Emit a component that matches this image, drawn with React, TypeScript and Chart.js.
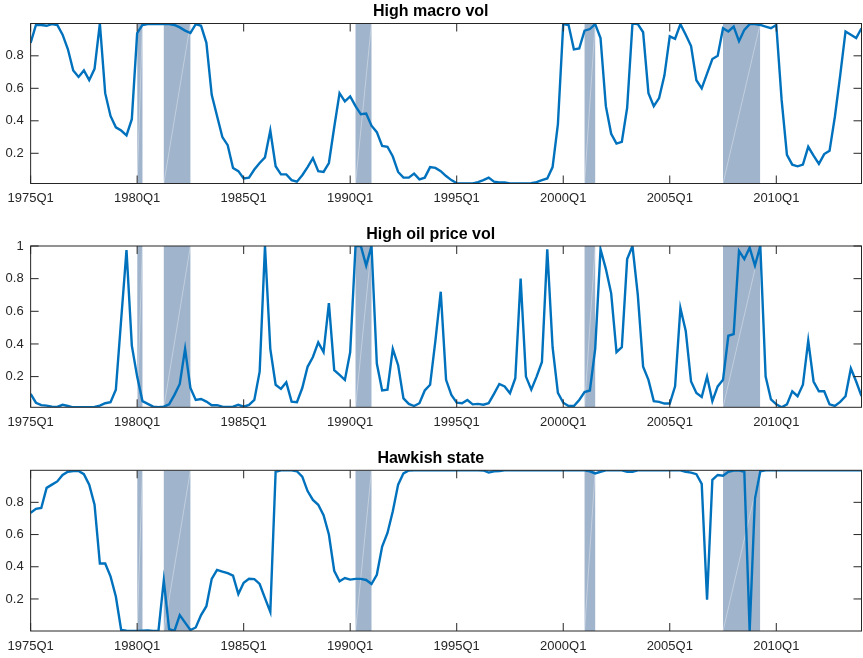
import React, { useEffect, useRef } from 'react';
import { Chart, registerables } from 'chart.js';

Chart.register(...registerables);

// ---------- data ----------
const START_YEAR = 1975;
const N_QUARTERS = 157;
const quarters: string[] = [];
for (let i = 0; i < N_QUARTERS; i++) {
  quarters.push(`${START_YEAR + Math.floor(i / 4)}Q${(i % 4) + 1}`);
}

const xTickLabels = ['1975Q1', '1980Q1', '1985Q1', '1990Q1', '1995Q1', '2000Q1', '2005Q1', '2010Q1'];

const recessions: [string, string][] = [
  ['1980Q1', '1980Q2'],
  ['1981Q2', '1982Q3'],
  ['1990Q2', '1991Q1'],
  ['2001Q1', '2001Q3'],
  ['2007Q3', '2009Q2'],
];

const macroVol = [
  0.88, 0.99, 0.99, 0.985, 0.995, 0.99, 0.93, 0.84, 0.71, 0.67,
  0.71, 0.65, 0.72, 0.999, 0.57, 0.43, 0.36, 0.34, 0.31, 0.41,
  0.94, 0.99, 0.995, 0.995, 0.995, 0.995, 0.995, 0.99, 0.975, 0.955,
  0.94, 0.995, 0.985, 0.88, 0.56, 0.43, 0.30, 0.25, 0.11, 0.09,
  0.045, 0.05, 0.10, 0.14, 0.175, 0.34, 0.12, 0.07, 0.07, 0.035,
  0.025, 0.065, 0.115, 0.17, 0.09, 0.085, 0.14, 0.36, 0.57, 0.52,
  0.55, 0.49, 0.44, 0.445, 0.37, 0.33, 0.245, 0.24, 0.18, 0.085,
  0.05, 0.05, 0.075, 0.04, 0.05, 0.115, 0.11, 0.09, 0.06, 0.035,
  0.016, 0.015, 0.015, 0.015, 0.022, 0.035, 0.05, 0.025, 0.02, 0.02,
  0.015, 0.014, 0.014, 0.014, 0.016, 0.022, 0.035, 0.045, 0.115, 0.38,
  0.995, 0.99, 0.84, 0.845, 0.955, 0.965, 0.995, 0.91, 0.49, 0.32,
  0.26, 0.27, 0.48, 0.999, 0.995, 0.945, 0.57, 0.49, 0.54, 0.68,
  0.92, 0.905, 0.995, 0.93, 0.86, 0.65, 0.60, 0.69, 0.78, 0.80,
  0.97, 0.95, 0.98, 0.89, 0.96, 0.995, 0.995, 0.99, 0.98, 0.97,
  0.99, 0.53, 0.19, 0.13, 0.12, 0.13, 0.24, 0.185, 0.135, 0.195,
  0.215, 0.425, 0.68, 0.95, 0.93, 0.91, 0.97,
];

const oilVol = [
  0.094, 0.04, 0.025, 0.022, 0.016, 0.014, 0.027, 0.02, 0.012, 0.012,
  0.012, 0.012, 0.014, 0.022, 0.037, 0.043, 0.12, 0.55, 0.975, 0.39,
  0.20, 0.05, 0.033, 0.016, 0.012, 0.016, 0.03, 0.088, 0.155, 0.37,
  0.13, 0.057, 0.063, 0.047, 0.025, 0.025, 0.016, 0.014, 0.016, 0.027,
  0.016, 0.027, 0.057, 0.23, 1.0, 0.37, 0.15, 0.125, 0.165, 0.047,
  0.043, 0.13, 0.26, 0.32, 0.41, 0.35, 0.65, 0.24, 0.21, 0.18,
  0.35, 1.0, 1.0, 0.88, 1.0, 0.28, 0.115, 0.12, 0.37, 0.27,
  0.067, 0.033, 0.02, 0.037, 0.115, 0.15, 0.42, 0.72, 0.18, 0.088,
  0.04, 0.037, 0.057, 0.03, 0.033, 0.028, 0.037, 0.094, 0.155, 0.14,
  0.098, 0.19, 0.80, 0.20, 0.12, 0.20, 0.29, 0.98, 0.38, 0.10,
  0.04, 0.02, 0.02, 0.057, 0.105, 0.115, 0.37, 0.98, 0.86, 0.71,
  0.35, 0.38, 0.92, 1.0, 0.70, 0.26, 0.18, 0.05, 0.045, 0.035,
  0.035, 0.14, 0.62, 0.48, 0.17, 0.10, 0.075, 0.20, 0.05, 0.14,
  0.18, 0.45, 0.46, 0.97, 0.92, 0.99, 0.88, 1.0, 0.20, 0.06,
  0.03, 0.012, 0.03, 0.11, 0.08, 0.15, 0.42, 0.17, 0.11, 0.11,
  0.03, 0.02, 0.045, 0.08, 0.25, 0.17, 0.08,
];

const hawkish = [
  0.735, 0.76, 0.765, 0.89, 0.91, 0.93, 0.97, 0.99, 0.995, 0.995,
  0.975, 0.91, 0.785, 0.42, 0.42, 0.34, 0.215, 0.007, 0.003, 0.001,
  0.001, 0.003, 0.005, 0.001, 0.001, 0.315, 0.013, 0.001, 0.10, 0.053,
  0.007, 0.023, 0.10, 0.155, 0.325, 0.38, 0.37, 0.36, 0.345, 0.23,
  0.30, 0.325, 0.323, 0.293, 0.205, 0.12, 0.99, 0.999, 0.999, 0.999,
  0.993, 0.96, 0.87, 0.815, 0.785, 0.72, 0.60, 0.375, 0.31, 0.33,
  0.32, 0.325, 0.325, 0.318, 0.293, 0.35, 0.525, 0.61, 0.745, 0.91,
  0.98, 0.998, 0.999, 0.999, 0.999, 0.999, 0.999, 0.999, 0.999, 0.999,
  0.999, 0.999, 0.999, 0.999, 0.999, 0.998, 0.985, 0.993, 0.995, 0.999,
  0.999, 0.999, 0.999, 0.999, 0.999, 0.999, 0.999, 0.999, 0.999, 0.999,
  0.999, 0.999, 0.999, 0.999, 0.999, 0.993, 0.98, 0.99, 0.999, 0.999,
  0.999, 0.999, 0.99, 0.99, 0.999, 0.999, 0.999, 0.999, 0.999, 0.999,
  0.999, 0.999, 0.999, 0.99, 0.985, 0.975, 0.915, 0.195, 0.94, 0.97,
  0.965, 0.99, 0.997, 0.999, 0.99, 0.001, 0.825, 0.993, 0.999, 0.999,
  0.999, 0.999, 0.999, 0.999, 0.999, 0.999, 0.999, 0.999, 0.999, 0.999,
  0.999, 0.999, 0.999, 0.999, 0.999, 0.999, 0.999,
];

const yTicksMacro = [0.2, 0.4, 0.6, 0.8];
const yTicksOil = [0.2, 0.4, 0.6, 0.8, 1];
const yTicksHawk = [0.2, 0.4, 0.6, 0.8];

// ---------- styling / layout ----------
const LINE_COLOR = '#0072BD';
const SHADE_COLOR = 'rgb(160,180,204)';
const AXIS_COLOR = '#262626';
const FONT = '"Liberation Sans", Arial, Helvetica, sans-serif';
const W = 863;
const PLOT_LEFT = 28.5;
const PLOT_RIGHT = 861.5;
const TICK_LEN = 8;

type Panel = {
  title: string;
  values: number[];
  yMin: number;
  yMax: number;
  yTicks: number[];
  canvasTop: number;
  canvasH: number;
  plotTop: number;
  plotBottom: number;
  titleY: number;
};

const panels: Panel[] = [
  { title: 'High macro vol', values: macroVol, yMin: 0.014, yMax: 0.999, yTicks: yTicksMacro,
    canvasTop: 0, canvasH: 215, plotTop: 23.5, plotBottom: 183.5, titleY: 11.5 },
  { title: 'High oil price vol', values: oilVol, yMin: 0.012, yMax: 1.0, yTicks: yTicksOil,
    canvasTop: 222, canvasH: 216, plotTop: 246, plotBottom: 407.3, titleY: 234.5 },
  { title: 'Hawkish state', values: hawkish, yMin: 0.001, yMax: 0.999, yTicks: yTicksHawk,
    canvasTop: 446, canvasH: 212, plotTop: 470.3, plotBottom: 631, titleY: 458.8 },
];

const boxPlugin = {
  id: 'matlabBox',
  afterDatasetsDraw(chart: any) {
    const { ctx, chartArea } = chart;
    const { left, right, top, bottom } = chartArea;
    const xs = chart.scales.x;
    const ys = chart.scales.y;
    ctx.save();
    ctx.strokeStyle = AXIS_COLOR;
    ctx.lineWidth = 1;
    ctx.beginPath();
    xs.ticks.forEach((t: any) => {
      const px = xs.getPixelForValue(t.value);
      ctx.moveTo(px, bottom);
      ctx.lineTo(px, bottom - TICK_LEN);
      ctx.moveTo(px, top);
      ctx.lineTo(px, top + TICK_LEN);
    });
    ys.ticks.forEach((t: any) => {
      const py = ys.getPixelForValue(t.value);
      ctx.moveTo(left, py);
      ctx.lineTo(left + TICK_LEN, py);
      ctx.moveTo(right, py);
      ctx.lineTo(right - TICK_LEN, py);
    });
    ctx.stroke();
    ctx.strokeRect(left, top, right - left, bottom - top);
    ctx.restore();
  },
};

function buildShade() {
  const pts: { x: number; y: number }[] = [];
  recessions.forEach(([s, e]) => {
    const si = quarters.indexOf(s);
    const ei = quarters.indexOf(e);
    pts.push({ x: si, y: 0 }, { x: si, y: 1 }, { x: ei, y: 1 }, { x: ei, y: 0 });
  });
  return pts;
}

// faint diagonal edge seen inside each shaded band of the original
function buildShadeDiagonals() {
  const pts: { x: number; y: number | null }[] = [];
  recessions.forEach(([s, e]) => {
    const si = quarters.indexOf(s);
    const ei = quarters.indexOf(e);
    pts.push({ x: si, y: 0 }, { x: ei, y: 1 }, { x: ei + 0.01, y: null });
  });
  return pts;
}

function PanelChart({ p }: { p: Panel }) {
  const ref = useRef<HTMLCanvasElement | null>(null);
  useEffect(() => {
    if (!ref.current) return;
    const padTop = p.titleY - p.canvasTop - 9.6;
    const padBottom = p.plotTop - p.canvasTop - 19.2 - padTop;
    const xAxisH = p.canvasH - (p.plotBottom - p.canvasTop);
    const xTickVals = xTickLabels.map((l) => quarters.indexOf(l));
    const chart = new Chart(ref.current, {
      type: 'line',
      data: {
        datasets: [
          {
            data: p.values.map((v, i) => ({ x: i, y: v })),
            borderColor: LINE_COLOR,
            borderWidth: 2.4,
            pointRadius: 0,
            fill: false,
            tension: 0,
            yAxisID: 'y',
          },
          {
            data: buildShadeDiagonals(),
            borderColor: 'rgba(255,255,255,0.45)',
            borderWidth: 0.8,
            pointRadius: 0,
            fill: false,
            spanGaps: false,
            tension: 0,
            yAxisID: 'yShade',
          },
          {
            data: buildShade(),
            borderWidth: 0,
            borderColor: 'rgba(0,0,0,0)',
            backgroundColor: SHADE_COLOR,
            pointRadius: 0,
            fill: 'origin',
            tension: 0,
            yAxisID: 'yShade',
          },
        ],
      },
      options: {
        animation: false,
        responsive: false,
        devicePixelRatio: 1,
        events: [],
        layout: { padding: { left: 0, right: W - PLOT_RIGHT, top: 0, bottom: 0 } },
        plugins: {
          legend: { display: false },
          tooltip: { enabled: false },
          title: {
            display: true,
            text: p.title,
            color: '#000',
            font: { family: FONT, size: 16, weight: 'bold', lineHeight: 1.2 },
            padding: { top: padTop, bottom: padBottom },
          },
        },
        scales: {
          x: {
            type: 'linear',
            min: 0,
            max: N_QUARTERS - 1,
            grid: { display: false, drawTicks: false },
            border: { display: false },
            afterBuildTicks: (scale: any) => {
              scale.ticks = xTickVals.map((v) => ({ value: v }));
            },
            afterFit: (scale: any) => {
              scale.height = xAxisH;
            },
            ticks: {
              color: AXIS_COLOR,
              font: { family: FONT, size: 13 },
              padding: 7.5,
              maxRotation: 0,
              autoSkip: false,
              callback: (v: any) => quarters[Number(v)] ?? '',
            },
          },
          y: {
            type: 'linear',
            min: p.yMin,
            max: p.yMax,
            grid: { display: false, drawTicks: false },
            border: { display: false },
            afterBuildTicks: (scale: any) => {
              scale.ticks = p.yTicks.map((v) => ({ value: v }));
            },
            afterFit: (scale: any) => {
              scale.width = PLOT_LEFT;
            },
            ticks: {
              color: AXIS_COLOR,
              font: { family: FONT, size: 13 },
              padding: 7,
              callback: (v: any) => String(Math.round(Number(v) * 10) / 10),
            },
          },
          yShade: {
            type: 'linear',
            display: false,
            min: 0,
            max: 1,
          },
        },
      } as any,
      plugins: [boxPlugin],
    });
    return () => chart.destroy();
  }, [p]);
  return (
    <canvas
      ref={ref}
      width={W}
      height={p.canvasH}
      style={{ position: 'absolute', left: 0, top: p.canvasTop, width: W, height: p.canvasH, display: 'block' }}
    />
  );
}

export default function App() {
  return (
    <div style={{ position: 'absolute', left: 0, top: 0, width: W, height: 658, background: '#fff' }}>
      {panels.map((p) => (
        <PanelChart key={p.title} p={p} />
      ))}
    </div>
  );
}
